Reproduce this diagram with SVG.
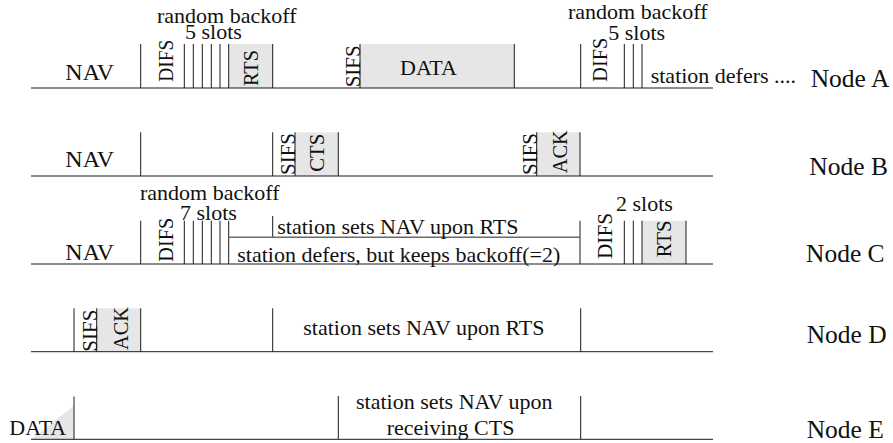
<svg xmlns="http://www.w3.org/2000/svg" width="893" height="443" viewBox="0 0 893 443">
  <style>
    text { font-family: "Liberation Serif", Tinos, "Times New Roman", Times, "DejaVu Serif", serif; fill: #111; }
    .t { font-size: 22px; }
    .nav { font-size: 24px; }
    .lbl { font-size: 25.5px; }
    .rot { font-size: 21px; }
    .ln { stroke: #1a1a1a; stroke-width: 1; fill: none; }
    .gl { stroke: #6a6a6a; stroke-width: 1.4; fill: none; }
    .box { fill: #e6e6e6; stroke: none; }
  </style>

  <!-- Node A -->
  <g id="node-a">
    <rect class="box" x="228.7" y="44" width="44" height="44"/>
    <rect class="box" x="360" y="44" width="154.3" height="44"/>
    <path class="ln" d="M31 88H713 M140.7 44V88 M184.3 44V88 M193.3 44V88 M202.3 44V88 M211.3 44V88 M220 44V88 M228.7 44V88 M272.7 44V88 M360 44V88 M514.3 44V88 M580.7 44V88 M624.3 44V88 M633.3 44V88 M642 44V88"/>
    <text class="nav" x="65.3" y="80">NAV</text>
    <text class="t" x="157" y="22.5">random backoff</text>
    <text class="t" x="185" y="39">5 slots</text>
    <text class="rot" transform="translate(172.7,81.7) rotate(-90)" textLength="42" lengthAdjust="spacingAndGlyphs">DIFS</text>
    <text class="rot" transform="translate(258.3,86) rotate(-90)" textLength="36" lengthAdjust="spacingAndGlyphs">RTS</text>
    <text class="rot" transform="translate(360,87.3) rotate(-90)" textLength="42" lengthAdjust="spacingAndGlyphs">SIFS</text>
    <text class="t" x="400" y="75">DATA</text>
    <text class="t" x="568" y="18.5">random backoff</text>
    <text class="t" x="608.3" y="39.5">5 slots</text>
    <text class="rot" transform="translate(606.7,81.7) rotate(-90)" textLength="44" lengthAdjust="spacingAndGlyphs">DIFS</text>
    <text class="t" x="650.7" y="83.3">station defers ....</text>
    <text class="lbl" x="810.7" y="87.3">Node A</text>
  </g>

  <!-- Node B -->
  <g id="node-b">
    <rect class="box" x="295" y="132.3" width="43.3" height="43.7"/>
    <rect class="box" x="536.7" y="132.3" width="43.3" height="43.7"/>
    <path class="ln" d="M31 176H713 M140.7 132.3V176 M272.7 132.3V176 M295 132.3V176 M338.3 132.3V176 M536.7 132.3V176 M580 132.3V176"/>
    <text class="nav" x="65.3" y="167.3">NAV</text>
    <text class="rot" transform="translate(295,175) rotate(-90)" textLength="42" lengthAdjust="spacingAndGlyphs">SIFS</text>
    <text class="rot" transform="translate(324,171.7) rotate(-90)" textLength="38" lengthAdjust="spacingAndGlyphs">CTS</text>
    <text class="rot" transform="translate(536.7,175) rotate(-90)" textLength="42" lengthAdjust="spacingAndGlyphs">SIFS</text>
    <text class="rot" transform="translate(566.7,173.3) rotate(-90)" textLength="43" lengthAdjust="spacingAndGlyphs">ACK</text>
    <text class="lbl" x="809.3" y="175">Node B</text>
  </g>

  <!-- Node C -->
  <g id="node-c">
    <rect class="box" x="642" y="220.7" width="44" height="43.3"/>
    <path class="ln" d="M31 264H713 M140.7 220.7V264 M184.3 220.7V264 M193.3 220.7V264 M202.3 220.7V264 M211.3 220.7V264 M220 220.7V264 M228.7 220.7V264 M272.7 216V237.3 M580 220.7V264 M624.3 220.7V264 M633.3 220.7V264 M642 220.7V264 M686 220.7V264"/>
    <path class="gl" d="M228.7 237.3H580"/>
    <text class="nav" x="65.3" y="260">NAV</text>
    <text class="t" x="140" y="200.3">random backoff</text>
    <text class="t" x="180" y="219.5">7 slots</text>
    <text class="rot" transform="translate(172.7,261.7) rotate(-90)" textLength="44" lengthAdjust="spacingAndGlyphs">DIFS</text>
    <text class="t" x="277.3" y="234.3">station sets NAV upon RTS</text>
    <text class="t" x="237.3" y="261.7">station defers, but keeps backoff(=2)</text>
    <text class="t" x="616" y="210.7">2 slots</text>
    <text class="rot" transform="translate(612,259) rotate(-90)" textLength="46" lengthAdjust="spacingAndGlyphs">DIFS</text>
    <text class="rot" transform="translate(671,257.3) rotate(-90)" textLength="37" lengthAdjust="spacingAndGlyphs">RTS</text>
    <text class="lbl" x="806" y="261.7">Node C</text>
  </g>

  <!-- Node D -->
  <g id="node-d">
    <rect class="box" x="96.7" y="308.3" width="44" height="43.4"/>
    <path class="ln" d="M31 351.7H713 M74 308.3V351.7 M96.7 308.3V351.7 M140.7 308.3V351.7 M272.7 308.3V351.7 M580.7 308.3V351.7"/>
    <text class="rot" transform="translate(96.7,351.7) rotate(-90)" textLength="42" lengthAdjust="spacingAndGlyphs">SIFS</text>
    <text class="rot" transform="translate(127.7,350) rotate(-90)" textLength="43" lengthAdjust="spacingAndGlyphs">ACK</text>
    <text class="t" x="303.3" y="335">station sets NAV upon RTS</text>
    <text class="lbl" x="806.7" y="343.3">Node D</text>
  </g>

  <!-- Node E -->
  <g id="node-e">
    <polygon class="box" points="31.7,439.3 73.3,406 74,439.3"/>
    <path class="ln" d="M31 439.3H713 M74 396.5V439.3 M338.3 396V439.3 M580.7 396V439.3"/>
    <text class="t" x="9.3" y="435">DATA</text>
    <text class="t" x="356" y="409.3">station sets NAV upon</text>
    <text class="t" x="386.7" y="434.5">receiving CTS</text>
    <text class="lbl" x="806.7" y="438.3">Node E</text>
  </g>

  <!-- no connectors between timelines -->
  <g id="connectors"/>
</svg>
